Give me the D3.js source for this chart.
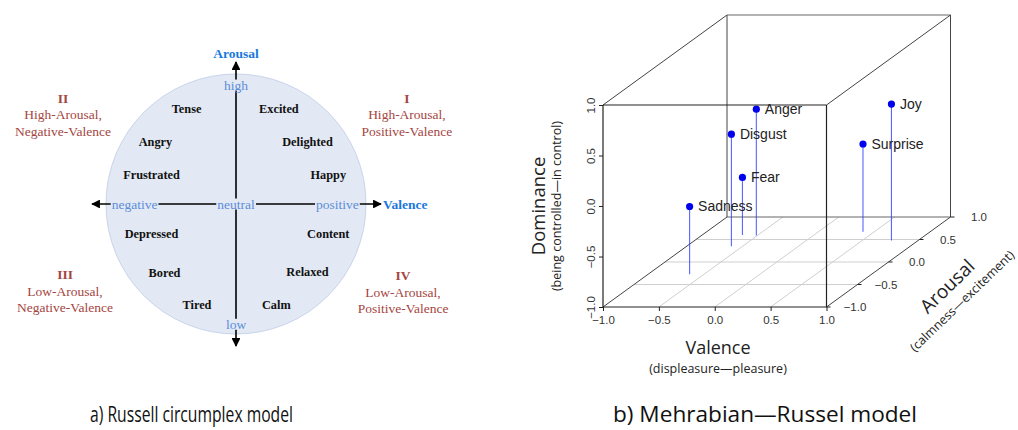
<!DOCTYPE html>
<html>
<head>
<meta charset="utf-8">
<script src="https://cdn.jsdelivr.net/npm/d3@7"></script>
<style>
  html, body { margin: 0; padding: 0; background: #fff; }
  svg { display: block; }
</style>
</head>
<body>
<svg id="chart" width="1018" height="430"></svg>
<script>
// ---------- Panel a) data: Russell circumplex ----------
const emotionWords   = ["Tense","Angry","Frustrated","Excited","Delighted","Happy","Depressed","Bored","Tired","Content","Relaxed","Calm"];
const emotionValence = [-0.38, -0.62, -0.65, 0.33, 0.55, 0.71, -0.65, -0.55, -0.30, 0.71, 0.55, 0.31];
const emotionArousal = [ 0.73,  0.48,  0.22, 0.73, 0.48, 0.22, -0.23, -0.53, -0.78, -0.23, -0.52, -0.78];
const quadNumerals = ["I","II","III","IV"];
const quadLines = [["High-Arousal,","Positive-Valence"],["High-Arousal,","Negative-Valence"],["Low-Arousal,","Negative-Valence"],["Low-Arousal,","Positive-Valence"]];
const quadValence = [1.315, -1.33, -1.315, 1.285];
const quadArousal = [0.815, 0.815, -0.545, -0.55];
const axisWords = ["high","low","negative","neutral","positive"];
const axisWordV = [0, 0, -0.78, 0, 0.78];
const axisWordA = [0.915, -0.925, 0, 0, 0];

// ---------- Panel b) data: Mehrabian-Russell PAD ----------
const pad3dNames = ["Anger","Disgust","Fear","Joy","Sadness","Surprise"];
const padValence   = [-0.51, -0.60, -0.64, 0.76, -0.63, 0.40];
const padArousal   = [ 0.59,  0.35,  0.60, 0.48, -0.27, 0.67];
const padDominance = [ 0.25,  0.11, -0.43, 0.35, -0.33, -0.13];
const axisTicks = [-1, -0.5, 0, 0.5, 1];
const tickLabels = ["\u22121.0","\u22120.5","0.0","0.5","1.0"];

const svg = d3.select("#chart");
const serif = "'Liberation Serif','Times New Roman',serif";
const sans = "'Liberation Sans',Arial,sans-serif";
const human = "'Open Sans',sans-serif";

// ================= Panel a =================
const cx = 236, cy = 204, R = 130;
const xV = d3.scaleLinear().domain([-1, 1]).range([cx - R, cx + R]);
const yA = d3.scaleLinear().domain([-1, 1]).range([cy + R, cy - R]);
const circleFill = "#e3e9f4";

const gA = svg.append("g");
gA.append("circle").attr("cx", xV(0)).attr("cy", yA(0)).attr("r", R)
  .attr("fill", circleFill).attr("stroke", "#c8d4ea").attr("stroke-width", 1);

svg.append("defs").append("marker").attr("id", "arr")
  .attr("viewBox", "0 0 10 10").attr("refX", 9).attr("refY", 5)
  .attr("markerWidth", 5.5).attr("markerHeight", 5.5).attr("orient", "auto")
  .append("path").attr("d", "M0,0 L10,5 L0,10 Z").attr("fill", "#000");

gA.append("line").attr("x1", xV(0)).attr("x2", xV(0)).attr("y1", yA(0)).attr("y2", 62)
  .attr("stroke", "#000").attr("stroke-width", 1.6).attr("marker-end", "url(#arr)");
gA.append("line").attr("x1", xV(0)).attr("x2", xV(0)).attr("y1", yA(0)).attr("y2", 346)
  .attr("stroke", "#000").attr("stroke-width", 1.6).attr("marker-end", "url(#arr)");
gA.append("line").attr("x1", xV(0)).attr("x2", 92).attr("y1", yA(0)).attr("y2", yA(0))
  .attr("stroke", "#000").attr("stroke-width", 1.6).attr("marker-end", "url(#arr)");
gA.append("line").attr("x1", xV(0)).attr("x2", 381).attr("y1", yA(0)).attr("y2", yA(0))
  .attr("stroke", "#000").attr("stroke-width", 1.6).attr("marker-end", "url(#arr)");

axisWords.forEach((w, i) => {
  const t = gA.append("text").attr("x", xV(axisWordV[i])).attr("y", yA(axisWordA[i]))
    .attr("text-anchor", "middle").attr("dominant-baseline", "central")
    .attr("font-family", serif).attr("font-size", 13.5).attr("fill", "#5b8dd8").text(w);
  const bb = t.node().getBBox();
  gA.insert("rect", () => t.node()).attr("x", bb.x - 1).attr("y", bb.y + 2)
    .attr("width", bb.width + 2).attr("height", bb.height - 4).attr("fill", circleFill);
});

gA.append("text").attr("x", xV(0)).attr("y", 53).attr("text-anchor", "middle")
  .attr("dominant-baseline", "central").attr("font-family", serif).attr("font-weight", "bold")
  .attr("font-size", 13.5).attr("fill", "#1a78e0").text("Arousal");
gA.append("text").attr("x", 383).attr("y", yA(0)).attr("text-anchor", "start")
  .attr("dominant-baseline", "central").attr("font-family", serif).attr("font-weight", "bold")
  .attr("font-size", 13.5).attr("fill", "#1a78e0").text("Valence");

gA.selectAll("text.emo").data(emotionWords).join("text").attr("class", "emo")
  .attr("x", (d, i) => xV(emotionValence[i])).attr("y", (d, i) => yA(emotionArousal[i]))
  .attr("text-anchor", "middle").attr("dominant-baseline", "central")
  .attr("font-family", serif).attr("font-weight", "bold").attr("font-size", 12.3)
  .attr("fill", "#111").text(d => d);

quadNumerals.forEach((n, i) => {
  const x = xV(quadValence[i]), y = yA(quadArousal[i]);
  const g = gA.append("g").attr("font-family", serif).attr("fill", "#a5453f")
    .attr("text-anchor", "middle").attr("dominant-baseline", "central");
  g.append("text").attr("x", x).attr("y", y).attr("font-weight", "bold").attr("font-size", 13.5).text(n);
  quadLines[i].forEach((l, j) => {
    g.append("text").attr("x", x).attr("y", y + 16.5 * (j + 1)).attr("font-size", 13.5).text(l);
  });
});

// ================= Panel b =================
const xS = d3.scaleLinear().domain([-1, 1]).range([603, 826.5]);
const zS = d3.scaleLinear().domain([-1, 1]).range([307, 105]);
const tS = d3.scaleLinear().domain([-1, 1]).range([0, 1]);
const depth = [124, -90];
const proj = (v, a, d) => [xS(v) + depth[0] * tS(a), zS(d) + depth[1] * tS(a)];
const gB = svg.append("g");
const seg = (p, q, col, w) => gB.append("line").attr("x1", p[0]).attr("y1", p[1])
  .attr("x2", q[0]).attr("y2", q[1]).attr("stroke", col).attr("stroke-width", w);

// floor grid
axisTicks.slice(1, 4).forEach(t => {
  seg(proj(t, -1, -1), proj(t, 1, -1), "#cfcfcf", 1);
  seg(proj(-1, t, -1), proj(1, t, -1), "#cfcfcf", 1);
});

// back box lines
const boxCol = "#444";
seg(proj(-1, 1, -1), proj(1, 1, -1), "#666", 1);
seg(proj(-1, 1, -1), proj(-1, 1, 1), boxCol, 1);
seg(proj(-1, 1, 1), proj(1, 1, 1), "#666", 1);
seg(proj(1, 1, -1), proj(1, 1, 1), boxCol, 1);
seg(proj(-1, -1, 1), proj(-1, 1, 1), boxCol, 1);
seg(proj(1, -1, 1), proj(1, 1, 1), boxCol, 1);
seg(proj(-1, -1, -1), proj(-1, 1, -1), boxCol, 1);
seg(proj(1, -1, -1), proj(1, 1, -1), boxCol, 1);

// stems & points
pad3dNames.forEach((n, i) => {
  const top = proj(padValence[i], padArousal[i], padDominance[i]);
  const bot = proj(padValence[i], padArousal[i], -1);
  gB.append("line").attr("x1", top[0]).attr("y1", top[1]).attr("x2", bot[0]).attr("y2", bot[1])
    .attr("stroke", "#2f3dff").attr("stroke-opacity", 0.8).attr("stroke-width", 1.1);
});
pad3dNames.forEach((n, i) => {
  const p = proj(padValence[i], padArousal[i], padDominance[i]);
  gB.append("circle").attr("cx", p[0]).attr("cy", p[1]).attr("r", 3.6).attr("fill", "#0000ee");
  gB.append("text").attr("x", p[0] + 8.5).attr("y", p[1]).attr("dominant-baseline", "central")
    .attr("font-family", sans).attr("font-size", 14).attr("fill", "#222").text(n);
});

// front box
seg(proj(-1, -1, -1), proj(1, -1, -1), "#222", 1.2);
seg(proj(-1, -1, 1), proj(1, -1, 1), "#222", 1.2);
seg(proj(-1, -1, -1), proj(-1, -1, 1), "#222", 1.2);
seg(proj(1, -1, -1), proj(1, -1, 1), "#222", 1.2);

// valence axis (bottom)
const axV = gB.append("g").attr("transform", `translate(0,${zS(-1)})`)
  .call(d3.axisBottom(xS).tickValues(axisTicks).tickSize(4).tickSizeOuter(0)
    .tickFormat((d, i) => tickLabels[i]));
axV.select(".domain").remove();
axV.selectAll("text").attr("font-family", sans).attr("font-size", 11.5).attr("fill", "#333").attr("dy", "0.9em");
axV.selectAll("line").attr("stroke", "#222");

// dominance axis (left)
const axD = gB.append("g").attr("transform", `translate(${xS(-1)},0)`)
  .call(d3.axisLeft(zS).tickValues(axisTicks).tickSize(4).tickSizeOuter(0)
    .tickFormat((d, i) => tickLabels[i]));
axD.select(".domain").remove();
axD.selectAll("line").attr("stroke", "#222");
axD.selectAll("text").attr("font-family", sans).attr("font-size", 11.5).attr("fill", "#333")
  .attr("x", null).attr("dy", null).attr("text-anchor", "middle").attr("dominant-baseline", "central")
  .attr("transform", "translate(-12,0) rotate(-90)");

// arousal axis (diagonal, right)
axisTicks.forEach((t, i) => {
  const p = proj(1, t, -1);
  seg(p, [p[0] + 4, p[1]], "#222", 1);
  gB.append("text").attr("x", p[0] + 28.5).attr("y", p[1]).attr("text-anchor", "middle")
    .attr("dominant-baseline", "central").attr("font-family", sans).attr("font-size", 11.5)
    .attr("fill", "#333").text(tickLabels[i]);
});

// axis titles
gB.append("text").attr("x", 718).attr("y", 347).attr("text-anchor", "middle").attr("dominant-baseline", "central")
  .attr("font-family", human).attr("font-size", 18).attr("fill", "#222").text("Valence");
gB.append("text").attr("x", 718).attr("y", 368).attr("text-anchor", "middle").attr("dominant-baseline", "central")
  .attr("font-family", human).attr("font-size", 12.5).attr("fill", "#222").text("(displeasure\u2014pleasure)");
gB.append("text").attr("transform", "translate(537,206) rotate(-90)").attr("text-anchor", "middle")
  .attr("dominant-baseline", "central").attr("font-family", human).attr("font-size", 18.5).attr("fill", "#222").text("Dominance");
gB.append("text").attr("transform", "translate(556,206) rotate(-90)").attr("text-anchor", "middle")
  .attr("dominant-baseline", "central").attr("font-family", human).attr("font-size", 12.5).attr("fill", "#222").text("(being controlled\u2014in control)");
gB.append("text").attr("transform", "translate(947,286) rotate(-44)").attr("text-anchor", "middle")
  .attr("dominant-baseline", "central").attr("font-family", human).attr("font-size", 19).attr("fill", "#222").text("Arousal");
gB.append("text").attr("transform", "translate(962,301) rotate(-44)").attr("text-anchor", "middle")
  .attr("dominant-baseline", "central").attr("font-family", human).attr("font-size", 12.5).attr("fill", "#222").text("(calmness\u2014excitement)");

// panel titles
svg.append("text").attr("x", 90).attr("y", 422).attr("textLength", 203).attr("lengthAdjust", "spacingAndGlyphs")
  .attr("font-family", human).attr("font-size", 22).attr("fill", "#111").text("a) Russell circumplex model");
svg.append("text").attr("x", 613).attr("y", 422).attr("textLength", 304).attr("lengthAdjust", "spacingAndGlyphs")
  .attr("font-family", human).attr("font-size", 22).attr("fill", "#111").text("b) Mehrabian\u2014Russel model");
</script>
</body>
</html>
